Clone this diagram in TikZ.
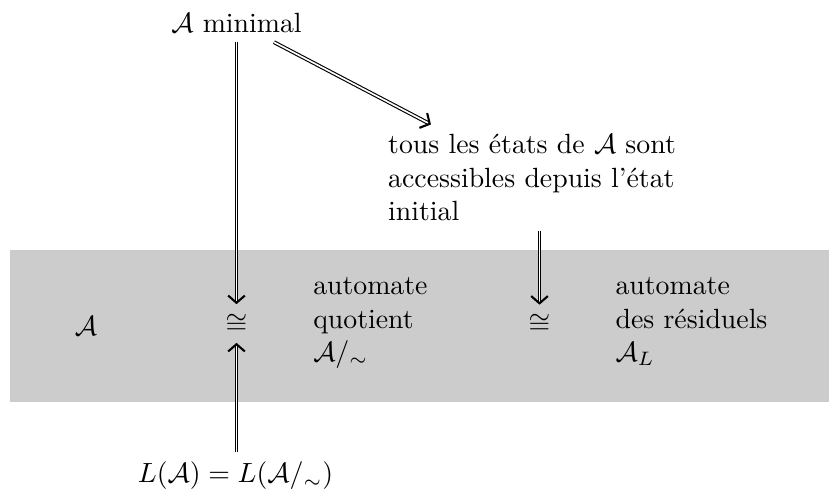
\documentclass[tikz,border=0pt]{standalone}
\usetikzlibrary{arrows.meta}
\begin{document}
\begin{tikzpicture}[x=0.3597pt,y=-0.3597pt,
  imp/.style={double,double distance=0.6pt,line width=0.4pt,
    -{Straight Barb[length=2.6pt,width=6pt,line width=0.75pt]}},
  blk/.style={align=left,anchor=base west,inner sep=0pt},
  lbl/.style={inner sep=0.3333em}]
\useasboundingbox (0,0) rectangle (829,493);
\fill[gray!40] (10,250) rectangle (829,402);
% top
\node[lbl,anchor=base] (amin) at (236.5,32) {$\mathcal{A}$ minimal};
\node[lbl,align=left] (tous) at (532,177.5) {tous les états de $\mathcal{A}$ sont\\accessibles depuis l'état\\initial};
% band row
\node[lbl] (a) at (86,326) {$\mathcal{A}$};
\node[lbl] (c1) at (236.5,323.5) {$\cong$};
\node[blk] (quot) at (312.7,361.5) {automate\\quotient\\$\mathcal{A}/_{\sim}$};
\node[lbl] (c2) at (539.5,324) {$\cong$};
\node[blk] (res) at (615,361.5) {automate\\des résiduels\\$\mathcal{A}_L$};
% bottom
\node[lbl] (lang) at (235.5,476) {$L(\mathcal{A})=L(\mathcal{A}/_{\sim})$};
% arrows
\draw[imp] (amin) -- (tous);
\draw[imp] (c1 |- amin.south) -- (c1);
\draw[imp] (c2 |- tous.south) -- (c2);
\draw[imp] (c1 |- lang.north) -- (c1);
\end{tikzpicture}
\end{document}
